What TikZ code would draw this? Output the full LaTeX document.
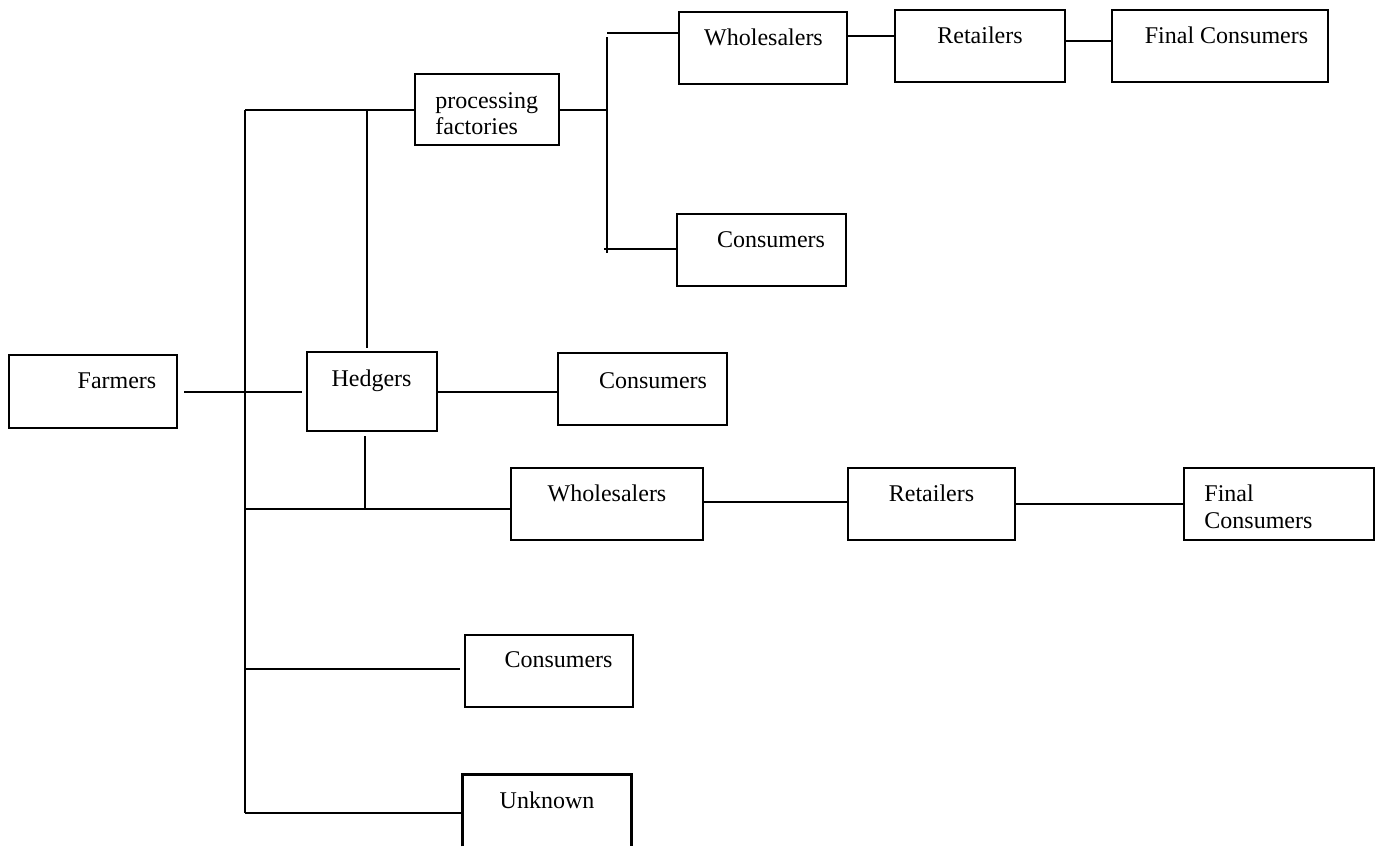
\documentclass[tikz,border=0pt]{standalone}
\usepackage{fontspec}
\setmainfont{Liberation Serif}
\usetikzlibrary{fit}
\begin{document}
\begin{tikzpicture}[x=0.5pt,y=-0.5pt,
  box/.style={draw, line width=1.2pt, inner sep=0pt},
  openbox/.style={inner sep=0pt},
  conn/.style={line width=1pt},
  txt/.style={inner sep=0pt, anchor=base, font=\fontsize{12pt}{13pt}\selectfont},
  ltxt/.style={txt, anchor=base west}]
\useasboundingbox (0,0) rectangle (1376,846);
% boxes
\node[box, fit={(9,355) (177,428)}] (farmers) {};
\node[box, fit={(415,74) (559,145)}] (proc) {};
\node[box, fit={(307,352) (437,431)}] (hedgers) {};
\node[box, fit={(558,353) (727,425)}] (consM) {};
\node[box, fit={(679,12) (847,84)}] (wholT) {};
\node[box, fit={(895,10) (1065,82)}] (retT) {};
\node[box, fit={(1112,10) (1328,82)}] (finT) {};
\node[box, fit={(677,214) (846,286)}] (consT) {};
\node[box, fit={(511,468) (703,540)}] (wholL) {};
\node[box, fit={(848,468) (1015,540)}] (retL) {};
\node[box, fit={(1184,468) (1374,540)}] (finL) {};
\node[box, fit={(465,635) (633,707)}] (consL) {};
\node[openbox, fit={(463,775) (631,846)}] (unknown) {};
\draw[line width=1.2pt] (unknown.south west) -- (unknown.north west) -- (unknown.north east) -- (unknown.south east);
% texts
\node[txt] (farmersT) at (117,388) {Farmers};
\node[ltxt] (procT) at (435,108) {\begin{tabular}[t]{@{}l@{}}processing\\factories\end{tabular}};
\node[txt] (hedgersT) at (371.5,386) {Hedgers};
\node[txt] (consMT) at (653,388) {Consumers};
\node[txt] (wholTT) at (763.5,45) {Wholesalers};
\node[txt] (retTT) at (980,43) {Retailers};
\node[txt] (finTT) at (1226.5,43) {Final Consumers};
\node[txt] (consTT) at (771,247) {Consumers};
\node[txt] (wholLT) at (607,501) {Wholesalers};
\node[txt] (retLT) at (931.5,501) {Retailers};
\node[ltxt, font=\fontsize{12pt}{13.5pt}\selectfont] (finLT) at (1204,501) {\begin{tabular}[t]{@{}l@{}}Final\\Consumers\end{tabular}};
\node[txt] (consLT) at (558.5,667) {Consumers};
\node[txt] (unknownT) at (547,808) {Unknown};
% junction coordinates
\coordinate (tTop) at (245,109.5);
\coordinate (tBot) at (245,813);
\coordinate (hTop) at (367,109.5);
\coordinate (hBot) at (365,509);
\coordinate (tW) at (245,509);
\coordinate (tC) at (245,669);
\coordinate (rV) at (607,109.5);
\coordinate (rA) at (607,37);
\coordinate (rB) at (607,253);
\coordinate (rT) at (607,33);
\coordinate (rBt) at (604,249);
% connectors
\draw[conn, shorten <=3pt, shorten >=2pt] (farmers.east) -- (hedgers.west);
\draw[conn] (tTop) -- (tBot);
\draw[conn] (tTop) -- (proc.west);
\draw[conn, shorten >=1.5pt] (hTop) -- (hedgers.north -| hTop);
\draw[conn, shorten <=2pt] (hedgers.south -| hBot) -- (hBot);
\draw[conn] (tW) -- (wholL.west |- tW);
\draw[conn] (hedgers.east) -- (hedgers.east -| consM.west);
\draw[conn] (proc.east) -- (rV);
\draw[conn] (rA) -- (rB);
\draw[conn] (rT) -- (rT -| wholT.west);
\draw[conn] (rBt) -- (rBt -| consT.west);
\draw[conn] ([yshift=6pt]wholT.east) -- ([yshift=6pt]wholT.east -| retT.west);
\draw[conn] ([yshift=2.5pt]retT.east) -- ([yshift=2.5pt]retT.east -| finT.west);
\draw[conn] ([yshift=1pt]wholL.east) -- ([yshift=1pt]wholL.east -| retL.west);
\draw[conn] (retL.east) -- (finL.west);
\draw[conn, shorten >=2pt] (tC) -- (tC -| consL.west);
\draw[conn] (tBot) -- (tBot -| unknown.west);
\end{tikzpicture}
\end{document}
